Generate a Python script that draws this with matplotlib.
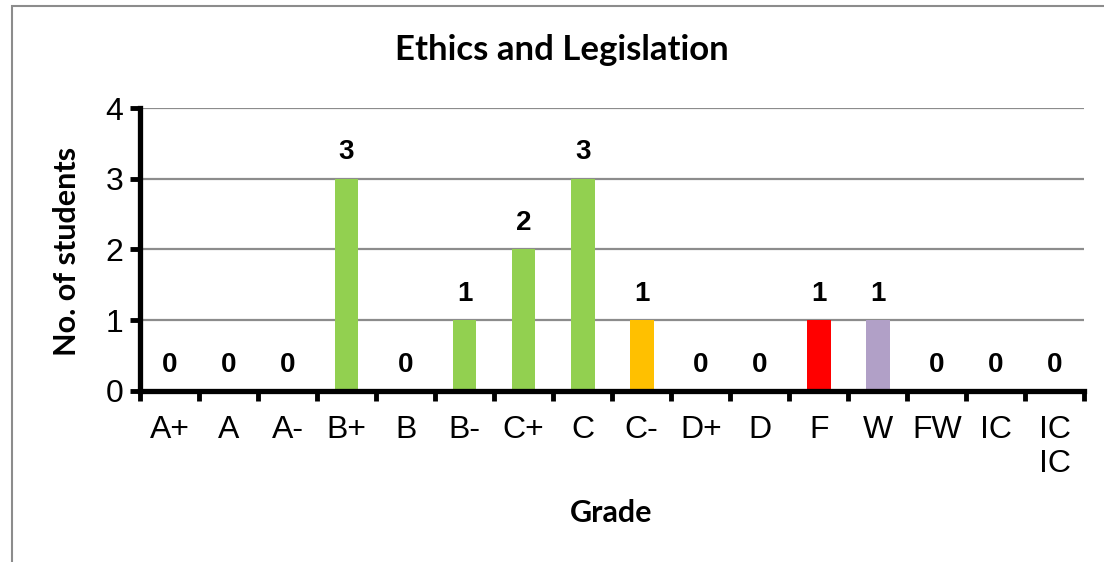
import matplotlib
matplotlib.use("Agg")
import matplotlib.pyplot as plt
from matplotlib.patches import Rectangle
import numpy as np

# ---------------------- data ----------------------
grades = ["A+", "A", "A-", "B+", "B", "B-", "C+", "C", "C-", "D+", "D", "F", "W", "FW", "IC", "IC\nIC"]
counts = [0, 0, 0, 3, 0, 1, 2, 3, 1, 0, 0, 1, 1, 0, 0, 0]
colors = ["#92D050"] * 8 + ["#FFC000", "#92D050", "#92D050", "#FF0000", "#B1A0C7", "#92D050", "#92D050", "#92D050"]

W, H = 1104, 562
fig = plt.figure(figsize=(W / 100, H / 100), dpi=100)
ax = fig.add_axes([0.1268, 0.3043, 0.8555, 0.5035])

# outer chart border (right/bottom edges fall outside the picture)
fig.patches.append(Rectangle((12 / W, -0.1), 1.2, 1 - 6 / H + 0.1,
                             transform=fig.transFigure, fill=False,
                             edgecolor="#8c8c8c", linewidth=1.5))

x = np.arange(len(grades))
ax.bar(x, counts, width=0.4, color=colors, zorder=3)

for xi, c in zip(x, counts):
    ax.annotate(str(c), (xi, c), xytext=(0, 19), textcoords="offset points",
                ha="center", va="center", fontsize=20, fontweight="bold",
                family="Liberation Sans")

ax.set_xlim(-0.5, len(grades) - 0.5)
ax.set_ylim(0, 4)
ax.set_yticks([0, 1, 2, 3, 4])
ax.yaxis.grid(True, color="#8c8c8c", linewidth=1.6, zorder=0)

ax.set_xticks(x)
ax.set_xticklabels(grades, fontsize=23, family="Liberation Sans", linespacing=1.2)
ax.set_xticks(np.arange(-0.5, len(grades)), minor=True)
ax.tick_params(axis="x", which="major", length=0, pad=17)
ax.tick_params(axis="x", which="minor", length=7, width=3.5, direction="out")
ax.tick_params(axis="y", length=7, width=3.5, direction="out", pad=5,
               labelsize=23, labelfontfamily="Liberation Sans")

for s in ["top", "right"]:
    ax.spines[s].set_visible(False)
for s in ["left", "bottom"]:
    ax.spines[s].set_linewidth(3.8)
    ax.spines[s].set_zorder(4)

fig.text(562 / W, 1 - 50 / H, "Ethics and Legislation", fontsize=25, fontweight="bold",
         family="Lato", ha="center", va="center")
fig.text(67 / W, 1 - 251 / H, "No. of students", fontsize=22, fontweight="bold",
         family="Lato", ha="center", va="center", rotation=90)
fig.text(611 / W, 1 - 513 / H, "Grade", fontsize=22, fontweight="bold",
         family="Lato", ha="center", va="center")

fig.savefig("out.png", dpi=100)
